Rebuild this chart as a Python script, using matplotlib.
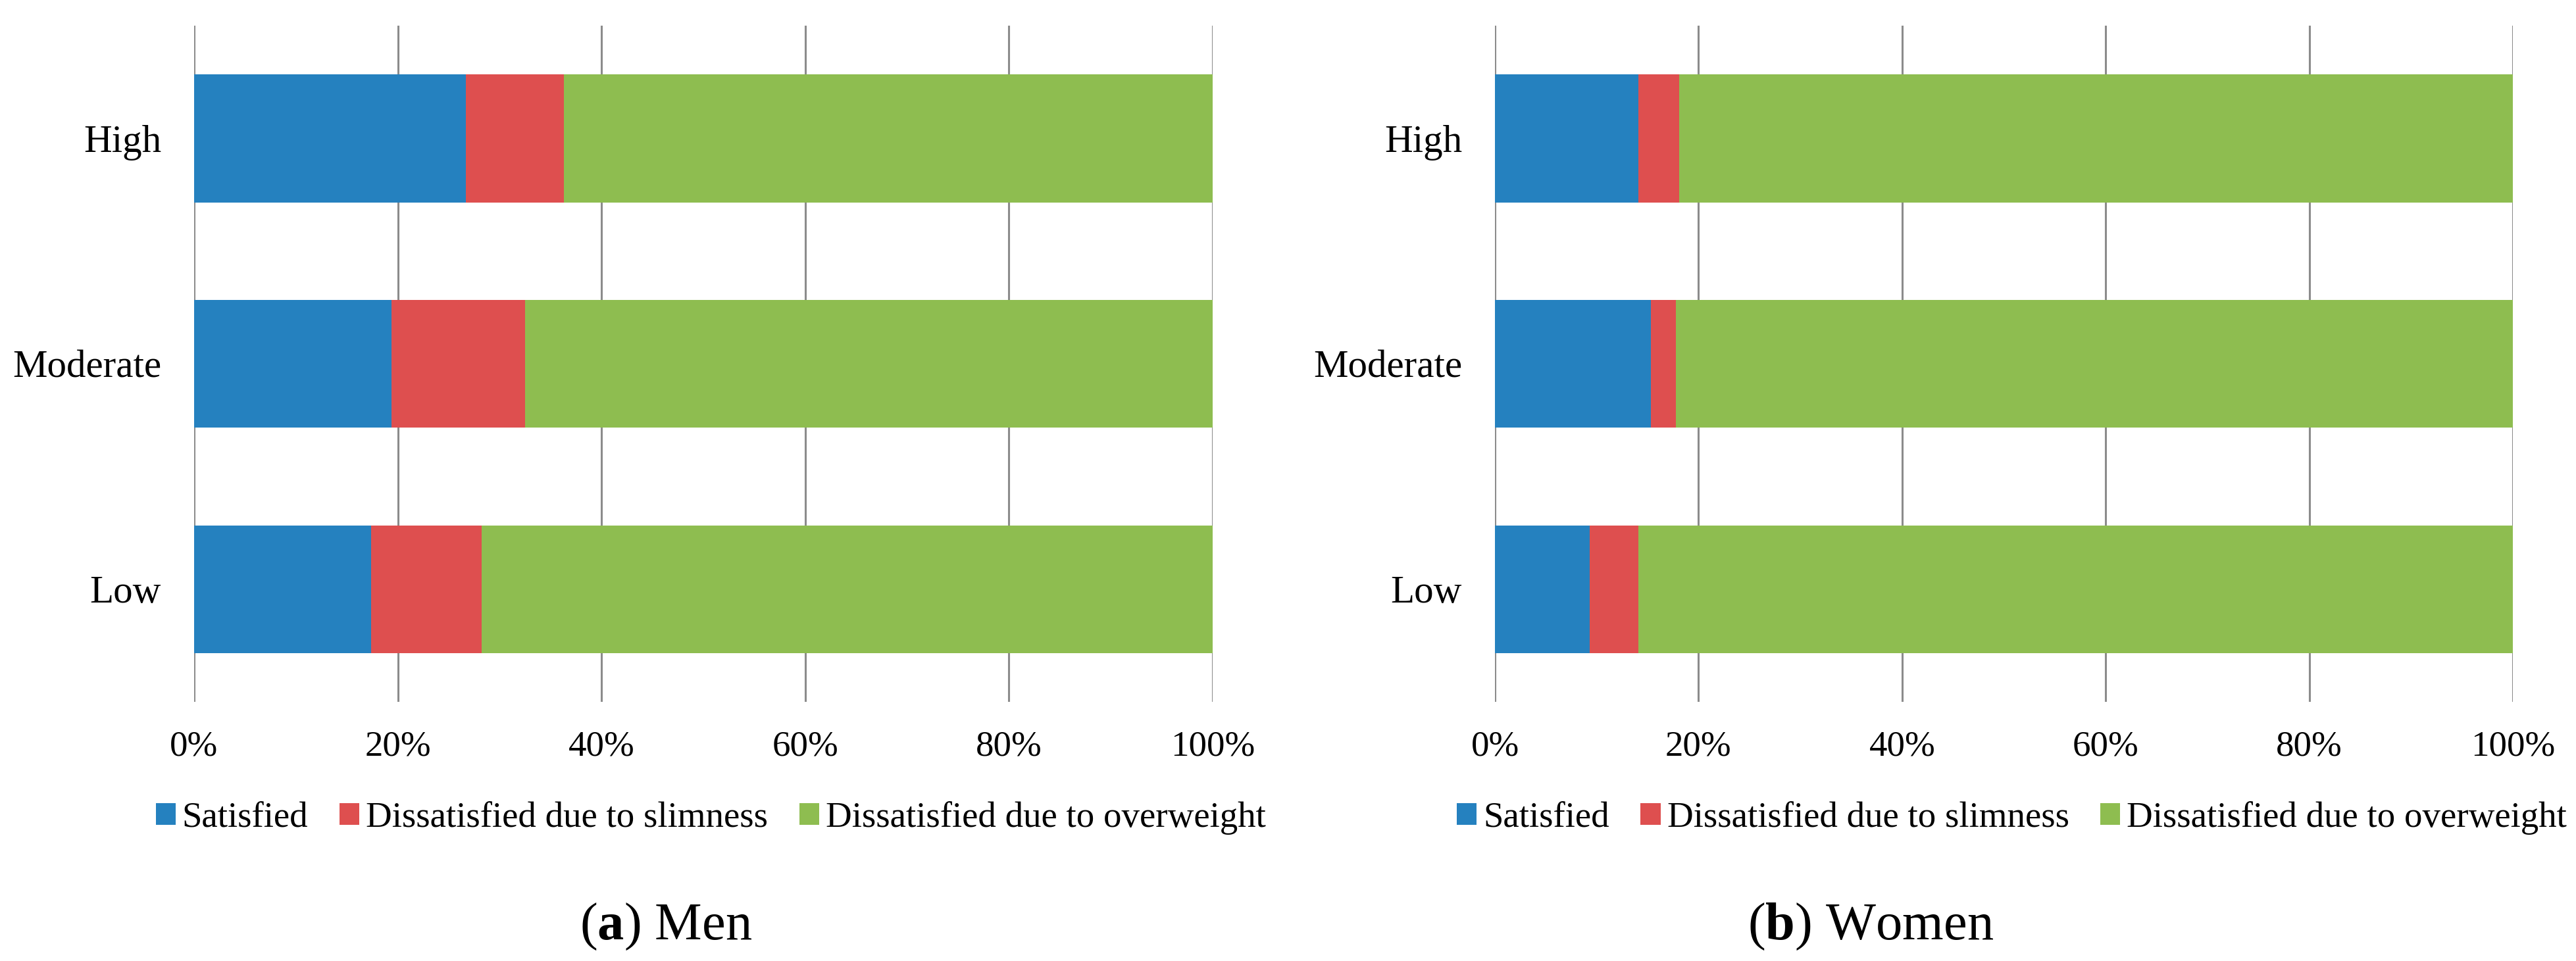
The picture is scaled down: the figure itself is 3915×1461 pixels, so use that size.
import numpy as np
import matplotlib
matplotlib.use('Agg')
import matplotlib.pyplot as plt
import matplotlib.ticker as mticker

plt.rcParams['font.family'] = 'serif'
plt.rcParams['font.serif'] = ['Liberation Serif', 'DejaVu Serif']
plt.rcParams['mathtext.fontset'] = 'custom'
plt.rcParams['mathtext.rm'] = 'Liberation Serif'
plt.rcParams['mathtext.bf'] = 'Liberation Serif:bold'

# data (percent), top to bottom
categories = ['High', 'Moderate', 'Low']
series = ['Satisfied', 'Dissatisfied due to slimness',
          'Dissatisfied due to overweight']
men_satisfied = [26.7, 19.4, 17.4]
men_slim = [9.6, 13.1, 10.8]
men_over = [63.7, 67.5, 71.8]
women_satisfied = [14.1, 15.3, 9.3]
women_slim = [4.0, 2.5, 4.8]
women_over = [81.9, 82.2, 85.9]
xticks = [0, 20, 40, 60, 80, 100]
captions = [r'($\mathbf{a}$) Men', r'($\mathbf{b}$) Women']

colors = ['#2581BF', '#DE4F4F', '#8EBD50']

# initialize figure
fig = plt.figure(figsize=(39.15, 14.61), dpi=100)
axl = fig.add_axes([0.07535, 0.26965, 0.39540, 0.70363])
axr = fig.add_axes([0.58034, 0.26965, 0.39515, 0.70363])

panels = [(axl, [men_satisfied, men_slim, men_over], 0.2759, 0.2585),
          (axr, [women_satisfied, women_slim, women_over], 0.781, 0.7262)]

for i, (ax, vals, legx, capx) in enumerate(panels):
    y = np.arange(len(categories))
    left = np.zeros(len(categories))
    for v, lab, col in zip(vals, series, colors):
        ax.barh(y, v, left=left, height=0.567, color=col, label=lab,
                linewidth=0)
        left += np.array(v)

    ax.set_xlim(0, 100)
    ax.set_ylim(2.5, -0.5)
    ax.set_yticks(y)
    ax.set_yticklabels(categories)
    ax.xaxis.set_major_locator(mticker.FixedLocator(xticks))
    ax.xaxis.set_major_formatter(mticker.PercentFormatter(decimals=0))
    ax.tick_params(axis='x', length=0, pad=31, labelsize=39.5)
    ax.tick_params(axis='y', length=0, pad=36, labelsize=42.5)
    ax.set_axisbelow(True)
    ax.grid(axis='x', color='#8C8C8C', linewidth=2.2)
    for sp in ax.spines.values():
        sp.set_visible(False)

    # legend below the axes
    fig.legend(*ax.get_legend_handles_labels(), loc='center',
               bbox_to_anchor=(legx, 0.149), ncol=3, frameon=False,
               fontsize=39.5, handlelength=0.55, handleheight=0.55,
               handletextpad=0.18, columnspacing=0.87, borderpad=0)

    # panel caption
    fig.text(capx, 0.0226, captions[i], ha='center', va='baseline',
             fontsize=58)

fig.savefig('out.png', dpi=100, facecolor='white')
